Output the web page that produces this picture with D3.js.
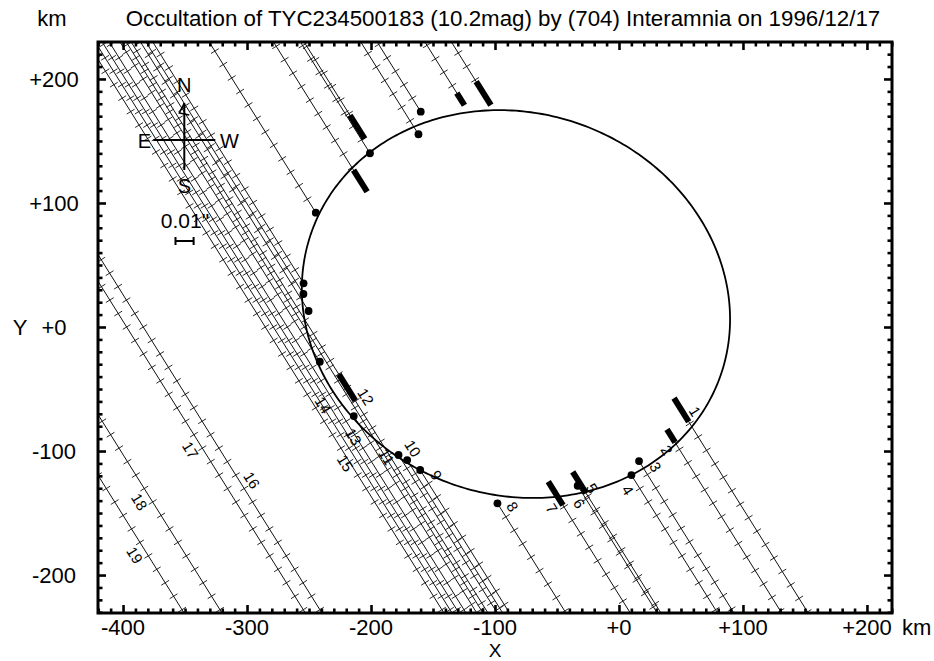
<!DOCTYPE html>
<html><head><meta charset="utf-8">
<script src="https://cdn.jsdelivr.net/npm/d3@7"></script>
<style>
body{margin:0;background:#fff}
text{font-family:"Liberation Sans",Arial,Helvetica,sans-serif;fill:#000}
</style>
</head><body>
<svg id="c" width="934" height="661"></svg>
<script>
// ---------------- data (km) ----------------
const titleText = "Occultation of TYC234500183 (10.2mag) by (704) Interamnia on 1996/12/17";
const xTicks = [-400, -300, -200, -100, 0, 100, 200];
const xTickLabels = ["-400", "-300", "-200", "-100", "+0", "+100", "+200"];
const yTicks = [-200, -100, 0, 100, 200];
const yTickLabels = ["-200", "-100", "+0", "+100", "+200"];
const minorStep = 10;
const xDomain = [-420.2, 220.2];
const yDomain = [-230.6, 229.8];

const trackSlope = -1.6;      // dY/dX of every chord
const tickStepKm = 12.8;      // spacing of time marks along a chord

// "" = unnumbered line
const chordIds   = [1, 2, 3, 4, 5, 6, 7, 8, 9, 10, 11, 12, 13, 14, 15, 16, 17, 18, 19, "", "", ""];
const chordX0    = [8.5, -12.9, -51.4, -64.6, -113.3, -110.3, -135.0, -186.9, -232.4, -237.9, -242.3, -249.8, -258.8, -267.5, -278.8, -383.7, -397.1, -464.3, -494.9, -253.8, -273.2, -285.3];
const disY       = [188.4, 183.7, 173.6, 155.4, 140.1, 161.2, 117.8, 92.2, 35.2, 26.6, 12.9, null, -28.0, null, null, null, null, null, null, null, null, null];
const disErr     = [11.2, 5.8, 0, 0, 0, 11.25, 10.3, 0, 0, 0, 0, 0, 0, 0, 0, 0, 0, 0, 0, 0, 0, 0];
const reaY       = [-66.9, -87.8, -108.1, -119.4, -128.0, -125.4, -134.2, -142.2, -115.3, -107.3, -103.2, null, -71.8, null, null, null, null, null, null, null, null, null];
const reaErr     = [11.2, 6.2, 0, 0, 0, 10.2, 11.2, 0, 0, 0, 0, 0, 0, 0, 0, 0, 0, 0, 0, 0, 0, 0];
const blinkY     = [null, null, null, null, null, null, null, null, null, null, null, -48.8, null, null, null, null, null, null, null, null, null, null];
const blinkErr   = [0, 0, 0, 0, 0, 0, 0, 0, 0, 0, 0, 12.5, 0, 0, 0, 0, 0, 0, 0, 0, 0, 0];
const labelY     = [-68, -99.2, -112.7, -131.5, -130, -142.2, -146.2, -144.9, -119.4, -97.8, -104.6, -56.2, -88.5, -62.9, -109.7, -123.4, -99.2, -140.9, -183.9, 0, 0, 0];
const labelSide  = [1, -1, 1, -1, 1, -1, -1, 1, 1, 1, -1, 1, -1, -1, -1, 1, -1, -1, -1, 0, 0, 0];

const ellipseCenter = [-83.1, 18.5];
const ellipseAxes = [174.8, 154.0];
const ellipseTiltDeg = -19.1;
const scaleBarKm = 14.6;   // 0.01"

// ---------------- layout ----------------
const L = 98, R = 892, T = 42, B = 613;
const svg = d3.select("#c");
const x = d3.scaleLinear().domain(xDomain).range([L, R]);
const y = d3.scaleLinear().domain(yDomain).range([B, T]);
const P = p => [x(p[0]), y(p[1])];

const nrm = Math.hypot(1, trackSlope);
const ux = 1 / nrm, uy = trackSlope / nrm;   // along-track unit
const vx = -uy, vy = ux;                      // perpendicular unit
const tickHalfKm = 3.7;
const sMin = -340, sMax = 340;

svg.append("rect").attr("width", 934).attr("height", 661).attr("fill", "#fff");
svg.append("clipPath").attr("id", "plot").append("rect")
  .attr("x", L).attr("y", T).attr("width", R - L).attr("height", B - T);
const g = svg.append("g").attr("clip-path", "url(#plot)");

const chords = chordIds.map((id, i) => ({
  id, X0: chordX0[i], d: disY[i], de: disErr[i], r: reaY[i], re: reaErr[i],
  b: blinkY[i], be: blinkErr[i], ly: labelY[i], ls: labelSide[i]
}));
const pt = (c, s) => [c.X0 + s * ux, s * uy];
const sOfY = Y => Y / uy;
const line = d3.line();

chords.forEach(c => {
  let segs, ticks = [];
  if (c.d === null) {
    segs = [[sMin, sMax]];
    const ref = c.b !== null ? sOfY(c.b) : 0;
    for (let k = -40; k <= 40; k++) ticks.push(ref + k * tickStepKm);
  } else {
    const sD = sOfY(c.d), sR = sOfY(c.r);
    segs = [[sMin, sD], [sR, sMax]];
    for (let k = 1; sD - k * tickStepKm > sMin; k++) ticks.push(sD - k * tickStepKm);
    for (let k = 1; sR + k * tickStepKm < sMax; k++) ticks.push(sR + k * tickStepKm);
  }
  const cg = g.append("g");
  cg.selectAll("path.seg").data(segs).join("path").attr("class", "seg")
    .attr("d", s => line([P(pt(c, s[0])), P(pt(c, s[1]))]))
    .attr("stroke", "#111").attr("stroke-width", 1).attr("fill", "none");
  cg.selectAll("path.tk").data(ticks).join("path").attr("class", "tk")
    .attr("d", s => {
      const m = pt(c, s);
      return line([P([m[0] - vx * tickHalfKm, m[1] - vy * tickHalfKm]),
                   P([m[0] + vx * tickHalfKm, m[1] + vy * tickHalfKm])]);
    })
    .attr("stroke", "#111").attr("stroke-width", 0.9).attr("fill", "none");
});

// ellipse (asteroid profile)
const phi = ellipseTiltDeg * Math.PI / 180;
const ellPts = d3.range(0, 360, 1).map(t => {
  const a = t * Math.PI / 180;
  const ex = ellipseAxes[0] * Math.cos(a), ey = ellipseAxes[1] * Math.sin(a);
  return P([ellipseCenter[0] + ex * Math.cos(phi) - ey * Math.sin(phi),
            ellipseCenter[1] + ex * Math.sin(phi) + ey * Math.cos(phi)]);
});
g.append("path").attr("d", d3.line().curve(d3.curveLinearClosed)(ellPts))
  .attr("fill", "none").attr("stroke", "#000").attr("stroke-width", 1.8);

// events: bars and dots
const events = [];
chords.forEach(c => {
  if (c.d !== null) { events.push({ c, s: sOfY(c.d), e: c.de }); events.push({ c, s: sOfY(c.r), e: c.re }); }
  if (c.b !== null) events.push({ c, s: sOfY(c.b), e: c.be });
});
g.selectAll("path.bar").data(events.filter(e => e.e > 0)).join("path").attr("class", "bar")
  .attr("d", e => line([P(pt(e.c, e.s - e.e)), P(pt(e.c, e.s + e.e))]))
  .attr("stroke", "#000").attr("stroke-width", 6).attr("fill", "none");
g.selectAll("circle.dot").data(events.filter(e => e.e === 0)).join("circle").attr("class", "dot")
  .attr("cx", e => P(pt(e.c, e.s))[0]).attr("cy", e => P(pt(e.c, e.s))[1])
  .attr("r", 3.9).attr("fill", "#000");

// chord labels
const angle = Math.atan2(-uy, ux) * 180 / Math.PI; // screen rotation
g.selectAll("text.cl").data(chords.filter(c => c.id !== "")).join("text").attr("class", "cl")
  .attr("transform", c => {
    const q = P(pt(c, sOfY(c.ly)));
    return `translate(${q[0] + c.ls * 13},${q[1]}) rotate(${angle})`;
  })
  .attr("text-anchor", "middle").attr("dominant-baseline", "central")
  .attr("font-size", 15).text(c => c.id);

// ---------------- axes (ticks inward on all four sides) ----------------
const minorX = d3.range(-420, 221, minorStep).filter(v => v >= xDomain[0] && v <= xDomain[1] && !xTicks.includes(v));
const minorY = d3.range(-230, 231, minorStep).filter(v => v >= yDomain[0] && v <= yDomain[1] && !yTicks.includes(v));
function axisGroup(axis, tx, ty) {
  const a = svg.append("g").attr("transform", `translate(${tx},${ty})`).call(axis);
  a.select(".domain").remove();
  a.selectAll("line").attr("stroke", "#000").attr("stroke-width", 2.6);
  a.selectAll("text").remove();
}
[[8, xTicks], [4.5, minorX]].forEach(([len, vals]) => {
  axisGroup(d3.axisBottom(x).tickValues(vals).tickSize(-len).tickFormat(""), 0, B);
  axisGroup(d3.axisTop(x).tickValues(vals).tickSize(-len).tickFormat(""), 0, T);
});
[[8, yTicks], [4.5, minorY]].forEach(([len, vals]) => {
  axisGroup(d3.axisLeft(y).tickValues(vals).tickSize(-len).tickFormat(""), L, 0);
  axisGroup(d3.axisRight(y).tickValues(vals).tickSize(-len).tickFormat(""), R, 0);
});
svg.append("rect").attr("x", L).attr("y", T).attr("width", R - L).attr("height", B - T)
  .attr("fill", "none").attr("stroke", "#000").attr("stroke-width", 3);

// tick labels
svg.selectAll("text.xl").data(xTicks).join("text").attr("class", "xl")
  .attr("x", d => x(d)).attr("y", 634.5).attr("text-anchor", "middle")
  .attr("font-size", 22).text((d, i) => xTickLabels[i]);
svg.selectAll("text.yl").data(yTicks).join("text").attr("class", "yl")
  .attr("x", 54).attr("y", d => y(d) + 8).attr("text-anchor", "middle")
  .attr("font-size", 22).text((d, i) => yTickLabels[i]);
svg.append("text").attr("x", 902).attr("y", 634.5).attr("font-size", 22).text("km");
svg.append("text").attr("x", x(-100)).attr("y", 656.5).attr("text-anchor", "middle").attr("font-size", 19).text("X");
svg.append("text").attr("x", 20).attr("y", y(0) + 8).attr("text-anchor", "middle").attr("font-size", 22).text("Y");
svg.append("text").attr("x", 52).attr("y", 26).attr("text-anchor", "middle").attr("font-size", 22).text("km");
svg.append("text").attr("x", 503).attr("y", 26).attr("text-anchor", "middle").attr("font-size", 22.3).text(titleText);

// ---------------- compass and scale ----------------
const cx0 = 184.3, cy0 = 140;
const comp = svg.append("g").attr("stroke", "#000").attr("fill", "none").attr("stroke-width", 2);
comp.append("line").attr("x1", cx0).attr("y1", cy0 - 37).attr("x2", cx0).attr("y2", cy0 + 30);
comp.append("line").attr("x1", cx0 - 31).attr("y1", cy0).attr("x2", cx0 + 31).attr("y2", cy0);
comp.append("path").attr("stroke-width", 1.5)
  .attr("d", `M${cx0},${cy0 - 37} L${cx0 - 5},${cy0 - 27} L${cx0 + 5},${cy0 - 25}`);
svg.append("text").attr("x", cx0).attr("y", 92).attr("text-anchor", "middle").attr("font-size", 20).text("N");
svg.append("text").attr("x", cx0).attr("y", 193).attr("text-anchor", "middle").attr("font-size", 20).text("S");
svg.append("text").attr("x", 151).attr("y", 148).attr("text-anchor", "end").attr("font-size", 20).text("E");
svg.append("text").attr("x", 220).attr("y", 148).attr("text-anchor", "start").attr("font-size", 20).text("W");
svg.append("text").attr("x", 185).attr("y", 228).attr("text-anchor", "middle").attr("font-size", 21).text('0.01"');
const sbL = 175.5, sbW = scaleBarKm * (x(1) - x(0)), sbY = 241;
const sb = svg.append("g").attr("stroke", "#000").attr("stroke-width", 2);
sb.append("line").attr("x1", sbL).attr("y1", sbY).attr("x2", sbL + sbW).attr("y2", sbY);
sb.append("line").attr("x1", sbL).attr("y1", sbY - 4).attr("x2", sbL).attr("y2", sbY + 4);
sb.append("line").attr("x1", sbL + sbW).attr("y1", sbY - 4).attr("x2", sbL + sbW).attr("y2", sbY + 4);
</script>
</body></html>
